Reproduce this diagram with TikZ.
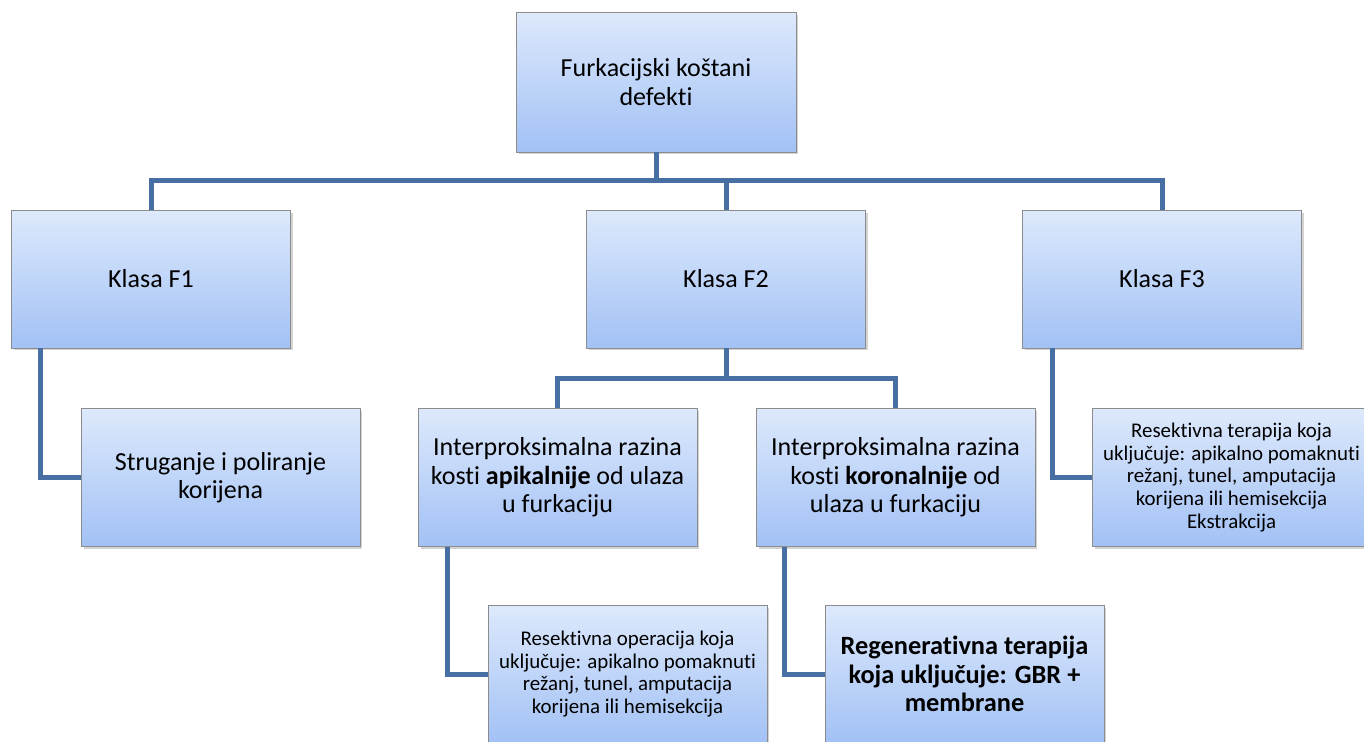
\documentclass[tikz,border=0pt]{standalone}
\usepackage{fontspec}
\setmainfont{Carlito}[Ligatures={NoCommon,NoContextual}]
\usetikzlibrary{shadows}

\definecolor{linkblue}{RGB}{71,111,163}
\definecolor{boxtop}{RGB}{221,233,252}
\definecolor{boxbottom}{RGB}{162,193,245}
\definecolor{boxedge}{RGB}{140,140,140}

\tikzset{
    box/.style={draw=boxedge, line width=0.4pt, top color=boxtop, bottom color=boxbottom,
        minimum width=5.58cm, minimum height=2.76cm, align=center, inner sep=2pt,
        font=\fontsize{14.8}{16.2}\selectfont,
        drop shadow={opacity=0.35, shadow xshift=0.05cm, shadow yshift=-0.05cm}},
    smalltext/.style={font=\fontsize{11.9}{13}\selectfont},
    link/.style={linkblue, line width=0.1cm}
}

\begin{document}
\begin{tikzpicture}[x=0.02cm, y=-0.02cm]
    \clip (0,0) rectangle (1364,742);

    % Root
    \node[box, minimum width=5.6cm, minimum height=2.8cm] (root) at (656,82) {Furkacijski koštani\\defekti};

    % Classes
    \node[box] (f1) at (151,279) {Klasa F1};
    \node[box] (f2) at (726,279) {Klasa F2};
    \node[box] (f3) at (1162,279) {Klasa F3};

    % Second level
    \node[box] (strug) at (220.5,477.5) {Struganje i poliranje\\korijena};
    \node[box] (apik) at (557.5,477.5) {Interproksimalna razina\\kosti \textbf{apikalnije} od ulaza\\u furkaciju};
    \node[box] (koron) at (895.5,477.5) {Interproksimalna razina\\kosti \textbf{koronalnije} od\\ulaza u furkaciju};
    \node[box, smalltext] (f3res) at (1231.5,477.5) {Resektivna terapija koja\\uključuje: apikalno pomaknuti\\režanj, tunel, amputacija\\korijena ili hemisekcija\\Ekstrakcija};

    % Third level
    \node[box, smalltext] (resop) at (627.5,674) {Resektivna operacija koja\\uključuje: apikalno pomaknuti\\režanj, tunel, amputacija\\korijena ili hemisekcija};
    \node[box, font=\bfseries\fontsize{15}{16.2}\selectfont] (regen) at (964.5,674) {Regenerativna terapija\\koja uključuje: GBR +\\membrane};

    % Connectors
    \begin{scope}[on background layer/.try]
    \draw[link] (root.south) -- ++(0,28) -| (f1.north);
    \draw[link] (root.south) -- ++(0,28) -| (f2.north);
    \draw[link] (root.south) -- ++(0,28) -| (f3.north);
    \draw[link] (f2.south) -- ++(0,30) -| (apik.north);
    \draw[link] (f2.south) -- ++(0,30) -| (koron.north);
    \draw[link] (f1.south west) ++(29,0) |- (strug.west);
    \draw[link] (f3.south west) ++(30,0) |- (f3res.west);
    \draw[link] (apik.south west) ++(30,0) |- (resop.west);
    \draw[link] (koron.south west) ++(29,0) |- (regen.west);
    \end{scope}
\end{tikzpicture}
\end{document}
